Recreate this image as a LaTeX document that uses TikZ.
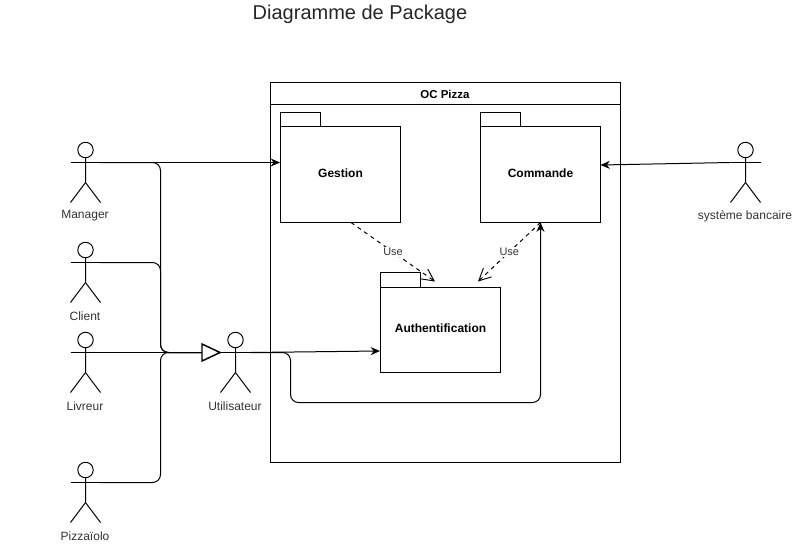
\documentclass[tikz,border=0pt]{standalone}
\usepackage{fontspec}
\setmainfont{Liberation Sans}
\usetikzlibrary{arrows.meta}
\definecolor{txt}{HTML}{333333}
\tikzset{
  x=0.75pt,y=-0.75pt,
  every node/.style={font=\fontsize{9}{11}\selectfont,text=txt},
  line/.style={draw=black,line width=0.75pt},
  pkg/.style={draw=black,line width=0.75pt,inner sep=0pt,minimum width=90pt,text=black,font=\fontsize{9}{11}\selectfont\bfseries},
  tabbox/.style={draw=black,line width=0.75pt,inner sep=0pt,minimum width=30pt},
  head/.style={circle,draw=black,line width=0.75pt,inner sep=0pt,minimum size=11.6pt},
  conn/.style={line,rounded corners=6pt},
  solidarrow/.style={conn,-{Stealth[length=7pt,width=6pt]}},
  usearrow/.style={line,dash pattern=on 3pt off 3pt,-{Straight Barb[length=9pt,width=9pt,line width=0.7pt]}},
  uselabel/.style={fill=white,inner sep=1pt,font=\fontsize{8.2}{10}\selectfont},
}
\newcommand{\stickman}[4]{% name, x, head y, label
  \node[head] (#1) at (#2,#3) {};
  \coordinate (#1-l) at (#2-15,#3+12.5);
  \coordinate (#1-r) at (#2+15,#3+12.5);
  \coordinate (#1-hip) at (#2,#3+32.5);
  \coordinate (#1-fl) at (#2-15,#3+52.5);
  \coordinate (#1-fr) at (#2+15,#3+52.5);
  \draw[line] (#1.south) -- (#1-hip) -- (#1-fl);
  \draw[line] (#1-hip) -- (#1-fr);
  \draw[line] (#1-l) -- (#1-r);
  \node (#1-label) at (#2-0.5,#3+66) {#4};
}
\begin{document}
\begin{tikzpicture}
\useasboundingbox (0,0) rectangle (793,543);
\node[font=\fontsize{15}{18}\selectfont,text=black!85] (title) at (360,14.5) {Diagramme de Package};
% system frame
\node[draw=black,line width=0.75pt,minimum width=262.5pt,minimum height=285pt,inner sep=0pt] (system) at (445.5,272.5) {};
\coordinate (hdrL) at (270.5,104.5);
\coordinate (hdrR) at (620.5,104.5);
\draw[line] (hdrL) -- (hdrR);
\node[text=black,font=\fontsize{8.6}{10}\selectfont\bfseries] (systitle) at (445,94) {OC Pizza};
% packages
\node[tabbox,minimum height=10.5pt] (gtab) at (300.5,119.5) {};
\node[pkg,minimum height=72pt,text depth=1.5pt] (gestion) at (340.5,174.5) {Gestion\hspace{3pt}};
\node[tabbox,minimum height=10.5pt] (ctab) at (500.5,119.5) {};
\node[pkg,minimum height=72pt,text depth=1.5pt] (commande) at (540.5,174.5) {Commande};
\node[tabbox,minimum height=11.25pt] (atab) at (400.5,280) {};
\node[pkg,minimum height=63.75pt,text depth=3pt] (auth) at (440.5,330) {Authentification};
% actors
\stickman{manager}{85.5}{150}{Manager}
\stickman{client}{85.5}{250}{Client}
\stickman{livreur}{85.5}{340}{Livreur}
\stickman{pizza}{85.5}{470}{Pizzaïolo}
\stickman{util}{235.5}{340}{Utilisateur}
\stickman{bank}{745.5}{150}{système bancaire}
% junction coordinates
\coordinate (trunkTop) at (160.5,162.5);
\coordinate (trunkClient) at (160.5,262.5);
\coordinate (trunkMid) at (160.5,352.5);
\coordinate (trunkLow) at (160.5,482.5);
\coordinate (gentip) at (220,352.5);
\coordinate (route1) at (290.5,352.5);
\coordinate (route2) at (290.5,402.5);
\coordinate (route3) at (540.5,402.5);
\coordinate (gestionOut) at (351,222.5);
\coordinate (authInL) at (435,281.5);
\coordinate (commandeOut) at (540.5,222.5);
\coordinate (authInR) at (478,281.5);
\coordinate (authW) at (380,351);
\coordinate (bankIn) at (600.5,165);
% connectors
\draw[solidarrow] (manager-r) -- (gestion.west |- manager-r);
\draw[conn] (manager-r) -- (trunkTop) -- (trunkMid) -- (gentip);
\draw[conn] (client-r) -- (trunkClient) -- (trunkMid) -- (gentip);
\draw[conn] (pizza-r) -- (trunkLow) -- (trunkMid) -- (gentip);
\draw[line] (livreur-r) -- (gentip);
\draw[line,fill=white,line width=1.1pt] (202,344) -- (gentip) -- (202,361) -- cycle;
\draw[solidarrow] (util-r) -- (authW);
\draw[solidarrow] (util-r) -- (route1) -- (route2) -- (route3) -- (commandeOut);
\draw[solidarrow] (bank-l) -- (bankIn);
\draw[usearrow] (gestionOut) -- node[uselabel,pos=0.5] (use1) {Use} (authInL);
\draw[usearrow] (commandeOut) -- node[uselabel,pos=0.5] (use2) {Use} (authInR);
\end{tikzpicture}
\end{document}
